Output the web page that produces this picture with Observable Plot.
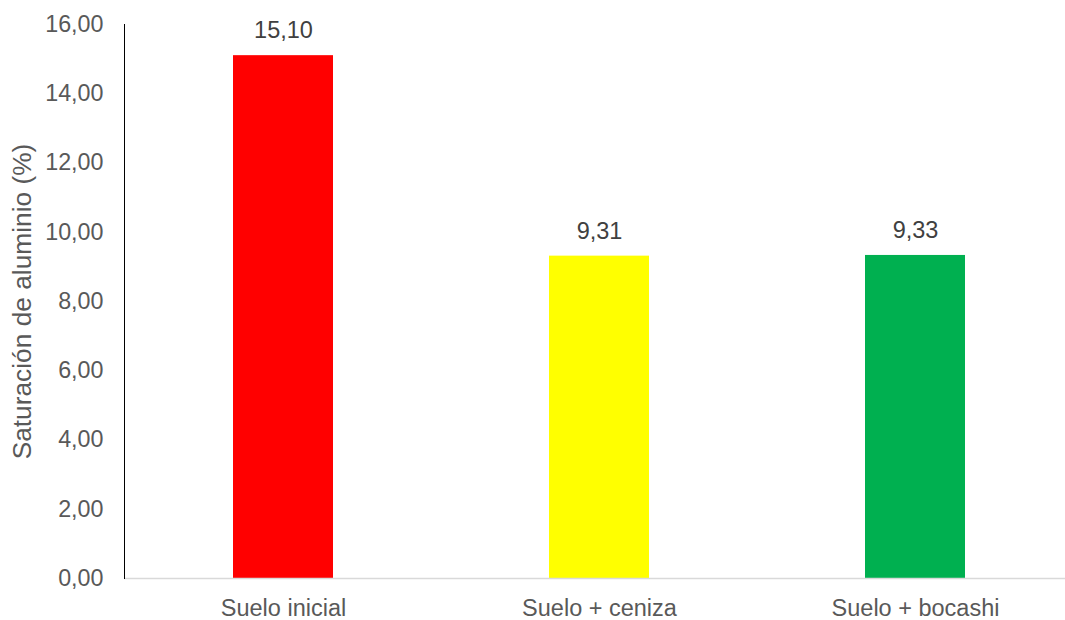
<!DOCTYPE html>
<html>
<head>
<meta charset="utf-8">
<script src="https://cdn.jsdelivr.net/npm/d3@7"></script>
<script src="https://cdn.jsdelivr.net/npm/@observablehq/plot@0.6"></script>
<style>
  html, body { margin: 0; padding: 0; background: #fff; }
  #chart svg { display: block; }
</style>
</head>
<body>
<div id="chart"></div>
<script>
const categories = ["Suelo inicial", "Suelo + ceniza", "Suelo + bocashi"];
const values = [15.10, 9.31, 9.33];
const colors = ["#FF0000", "#FFFF00", "#00B050"];
const yTicks = [0, 2, 4, 6, 8, 10, 12, 14, 16];
const yTitle = "Saturación de aluminio (%)";

const data = categories.map((c, i) => ({cat: c, value: values[i], color: colors[i]}));
const fmt = v => v.toFixed(2).replace(".", ",");
const font = "Liberation Sans, Arial, sans-serif";

const chart = Plot.plot({
  width: 1065,
  height: 620,
  marginLeft: 124,
  marginRight: 0,
  marginTop: 24,
  marginBottom: 42,
  style: {fontFamily: font, fontSize: "23px", color: "#595959", background: "#fff"},
  x: {domain: categories, range: [124.75, 1074], paddingInner: 0.684, paddingOuter: 0.342, label: null},
  y: {domain: [0, 16], range: [578, 24], label: null},
  marks: [
    Plot.barY(data, {x: "cat", y: "value", fill: d => d.color}),
    Plot.ruleY([0], {stroke: "#d9d9d9", strokeWidth: 1.5}),
    Plot.frame({anchor: "left", stroke: "#000", strokeWidth: 1}),
    Plot.axisY(yTicks, {tickSize: 0, tickPadding: 21, tickFormat: fmt, fill: "#595959", fontSize: 23.3, label: null}),
    Plot.axisX({tickSize: 0, tickPadding: 21, fill: "#595959", fontSize: 23.5, label: null}),
    Plot.text(data, {x: "cat", y: "value", text: d => fmt(d.value), dy: -25, fill: "#404040", fontSize: 23.5}),
    Plot.text([yTitle], {frameAnchor: "left", textAnchor: "middle", dx: -102, text: d => d, rotate: -90, fill: "#595959", fontSize: 26.3})
  ]
});
document.getElementById("chart").appendChild(chart);
</script>
</body>
</html>
